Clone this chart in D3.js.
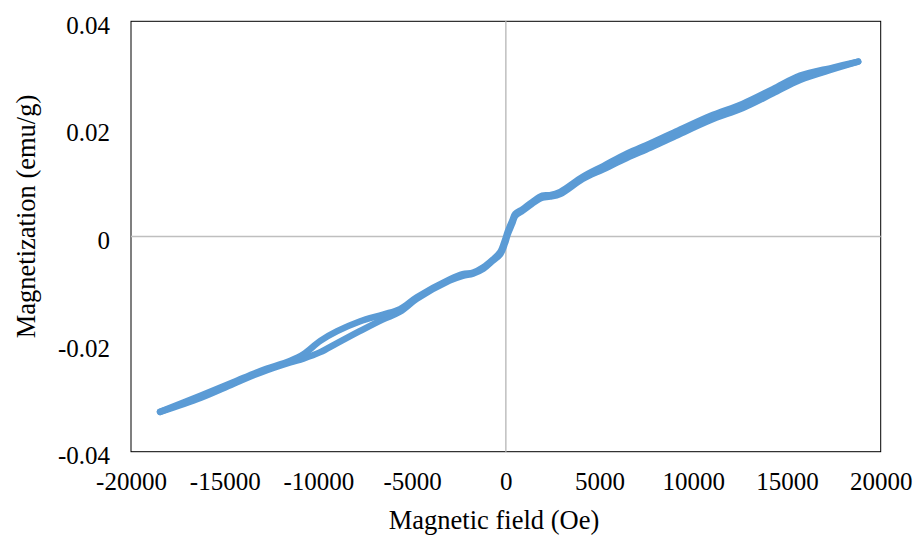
<!DOCTYPE html>
<html>
<head>
<meta charset="utf-8">
<script src="https://cdn.jsdelivr.net/npm/d3@7"></script>
<style>
  body { margin: 0; background: #fff; }
  text { font-family: "Liberation Serif", "Times New Roman", serif; fill: #000; }
</style>
</head>
<body>
<div id="chartContainer"></div>
<script>
  // sizes of the page and the plot box
  var WIDTH = 915;
  var HEIGHT = 539;
  var LEFT = 131, RIGHT = 880.7, TOP = 21.3, BOTTOM = 451.7;

  // ascending branch, field going from -max to +max
  var fieldUp = [-18450, -16300, -14550, -13100, -11500, -10800, -9900, -9000, -7800, -6550,
    -5650, -4750, -3000, -2300, -1750, -1200, -700, -300, -50, 100,
    350, 500, 900, 1400, 1950, 2350, 2900, 4100, 5200, 6450,
    7700, 8950, 10900, 12650, 14250, 15700, 17450, 18800];
  var magUp = [-0.0326, -0.0300, -0.0274, -0.0253, -0.0234, -0.0227, -0.0215, -0.0198, -0.0176, -0.0154,
    -0.0140, -0.0116, -0.0082, -0.0073, -0.0069, -0.0060, -0.0045, -0.0033, -0.0013, 0.0004,
    0.0025, 0.0038, 0.0048, 0.0061, 0.0072, 0.0074, 0.0079, 0.0107, 0.0125, 0.0146,
    0.0165, 0.0185, 0.0216, 0.0239, 0.0266, 0.0291, 0.0311, 0.0325];

  // descending branch, field going from +max back to -max
  var fieldDown = [18800, 17450, 15700, 14250, 12650, 10900, 8950, 7700, 6450, 5200,
    4100, 2900, 2350, 1950, 1400, 900, 500, 350, 100, -50,
    -300, -700, -1200, -1750, -2300, -3000, -4750, -5650, -6550, -7800,
    -9000, -9900, -10800, -11500, -13100, -14550, -16300, -18450];
  var magDown = [0.0325, 0.0314, 0.0299, 0.0274, 0.0247, 0.0224, 0.0193, 0.0173, 0.0154, 0.0131,
    0.0111, 0.0083, 0.0077, 0.0076, 0.0064, 0.0051, 0.0042, 0.0030, 0.0009, -0.0007,
    -0.0029, -0.0043, -0.0057, -0.0067, -0.0070, -0.0080, -0.0113, -0.0135, -0.0145, -0.0158,
    -0.0176, -0.0194, -0.0219, -0.0231, -0.0250, -0.0271, -0.0296, -0.0326];

  var xTicks = [-20000, -15000, -10000, -5000, 0, 5000, 10000, 15000, 20000];
  var yTicks = [-0.04, -0.02, 0, 0.02, 0.04];
  var yTickLabels = ["-0.04", "-0.02", "0", "0.02", "0.04"];

  var svg = d3.select("#chartContainer").append("svg")
      .attr("width", WIDTH)
      .attr("height", HEIGHT);

  var x = d3.scaleLinear().domain([-20000, 20000]).range([LEFT, RIGHT]);
  var y = d3.scaleLinear().domain([-0.04, 0.04]).range([BOTTOM, TOP]);

  // plot area border
  svg.append("rect")
      .attr("x", LEFT).attr("y", TOP)
      .attr("width", RIGHT - LEFT).attr("height", BOTTOM - TOP)
      .style("fill", "none")
      .style("stroke", "#000")
      .style("stroke-width", 1);

  // zero lines
  svg.append("line")
      .attr("x1", LEFT).attr("x2", RIGHT)
      .attr("y1", y(0)).attr("y2", y(0))
      .style("stroke", "#bfbfbf").style("stroke-width", 1.5);
  svg.append("line")
      .attr("x1", x(0)).attr("x2", x(0))
      .attr("y1", TOP).attr("y2", BOTTOM)
      .style("stroke", "#bfbfbf").style("stroke-width", 1.5);

  // y tick labels, no tick marks
  var yAxis = d3.axisLeft(y).tickValues(yTicks).tickSize(0)
      .tickFormat(function (d, i) { return yTickLabels[i]; });
  var gy = svg.append("g").attr("transform", "translate(" + (LEFT - 21) + ",0)").call(yAxis);
  gy.select(".domain").remove();
  gy.selectAll("text")
      .attr("x", 0)
      .attr("dy", "0.48em")
      .style("font-size", "25px")
      .style("font-family", "'Liberation Serif', 'Times New Roman', serif");

  // x tick labels, plain hyphen for negatives
  var xAxis = d3.axisBottom(x).tickValues(xTicks).tickSize(0)
      .tickFormat(function (d) { return String(d); });
  var gx = svg.append("g").attr("transform", "translate(0," + BOTTOM + ")").call(xAxis);
  gx.select(".domain").remove();
  gx.selectAll("text")
      .attr("y", 38.5)
      .attr("dy", 0)
      .style("font-size", "25px")
      .style("font-family", "'Liberation Serif', 'Times New Roman', serif");

  // the loop, both branches
  var line = d3.line()
      .x(function (d) { return x(d[0]); })
      .y(function (d) { return y(d[1]); })
      .curve(d3.curveCatmullRom.alpha(0.5));

  var up = fieldUp.map(function (h, i) { return [h, magUp[i]]; });
  var down = fieldDown.map(function (h, i) { return [h, magDown[i]]; });

  [up, down].forEach(function (branch) {
    svg.append("path")
        .datum(branch)
        .attr("d", line)
        .style("fill", "none")
        .style("stroke", "#5b9bd5")
        .style("stroke-width", 6.5)
        .style("stroke-linecap", "round")
        .style("stroke-linejoin", "round");
  });

  // axis titles
  svg.append("text")
      .attr("x", 494)
      .attr("y", 529)
      .attr("text-anchor", "middle")
      .style("font-size", "26.5px")
      .text("Magnetic field (Oe)");

  svg.append("text")
      .attr("transform", "translate(34.5,216.5) rotate(-90)")
      .attr("text-anchor", "middle")
      .style("font-size", "26.5px")
      .text("Magnetization (emu/g)");
</script>
</body>
</html>
